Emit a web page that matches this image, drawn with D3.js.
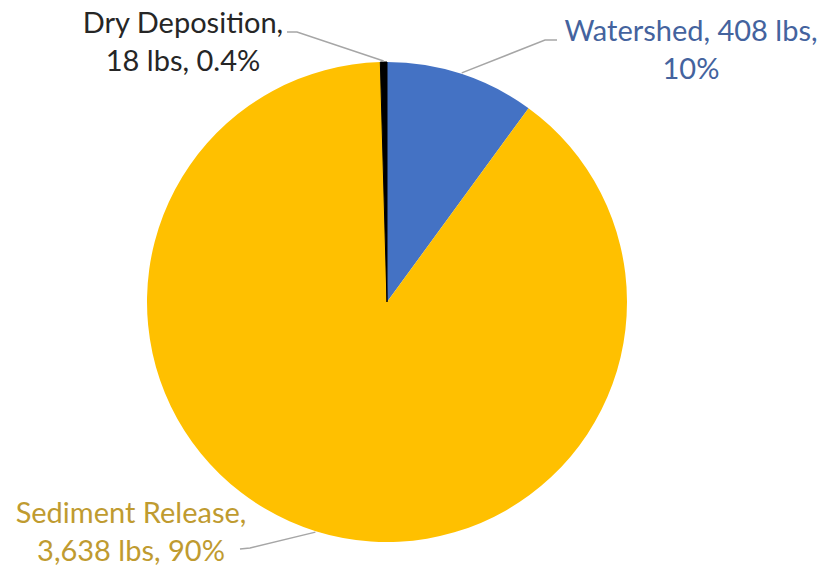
<!DOCTYPE html>
<html>
<head>
<meta charset="utf-8">
<script src="https://cdn.jsdelivr.net/npm/d3@7"></script>
<style>
  body { margin: 0; background: #fff; }
  svg { display: block; }
</style>
</head>
<body>
<div id="chart"></div>
<script>
// Phosphorus load by source, pie chart
const sources = ["Watershed", "Sediment Release", "Dry Deposition"];
const loads = [408, 3638, 18];
const percentLabels = ["10%", "90%", "0.4%"];

const sliceColors = ["#4472C4", "#FFC000", "#000000"];
const textColors = ["#44639E", "#BF9B30", "#262626"];

const width = 825;
const height = 572;
const cx = 387, cy = 302, radius = 240;

// label layout: text centre, first baseline, elbow of the leader line
const labelLayout = [
  { x: 691, y: 41, lines: d => [`${d.name}, ${d.value} lbs,`, d.pct], lineStart: [557, 40], elbow: [545, 40] },
  { x: 131, y: 523, lines: d => [`${d.name},`, `${d3.format(",")(d.value)} lbs, ${d.pct}`], lineStart: [240, 549], elbow: [250, 548] },
  { x: 183, y: 33, lines: d => [`${d.name},`, `${d.value} lbs, ${d.pct}`], lineStart: [287, 32], elbow: [297, 32] }
];

const data = sources.map((name, i) => ({ name, value: loads[i], pct: percentLabels[i], i }));

const svg = d3.select("#chart")
  .append("svg")
  .attr("width", width)
  .attr("height", height);

const g = svg.append("g")
  .attr("transform", `translate(${cx},${cy})`);

const pie = d3.pie().sort(null).value(d => d.value);
const arc = d3.arc().innerRadius(0).outerRadius(radius);
const arcs = pie(data);

g.selectAll("path.slice")
  .data(arcs)
  .enter()
  .append("path")
  .attr("class", "slice")
  .attr("d", arc)
  .attr("fill", d => sliceColors[d.data.i])
  .attr("stroke", d => d.data.i === 2 ? sliceColors[2] : "none")
  .attr("stroke-width", 1);

// leader lines
svg.selectAll("polyline.leader")
  .data(arcs)
  .enter()
  .append("polyline")
  .attr("class", "leader")
  .attr("fill", "none")
  .attr("stroke", "#A6A6A6")
  .attr("stroke-width", 1.5)
  .attr("points", d => {
    const a = (d.startAngle + d.endAngle) / 2;
    const ex = cx + Math.sin(a) * (radius + 1);
    const ey = cy - Math.cos(a) * (radius + 1);
    const L = labelLayout[d.data.i];
    return [L.lineStart, L.elbow, [ex, ey]].map(p => p.join(",")).join(" ");
  });

// labels
const labels = svg.selectAll("text.label")
  .data(data)
  .enter()
  .append("text")
  .attr("class", "label")
  .attr("text-anchor", "middle")
  .attr("font-family", "Lato, 'Open Sans', sans-serif")
  .attr("font-size", "29px")
  .attr("fill", d => textColors[d.i]);

labels.each(function (d) {
  const L = labelLayout[d.i];
  d3.select(this).selectAll("tspan")
    .data(L.lines(d))
    .enter()
    .append("tspan")
    .attr("x", L.x)
    .attr("y", (_, k) => L.y + k * 38)
    .text(t => t);
});
</script>
</body>
</html>
